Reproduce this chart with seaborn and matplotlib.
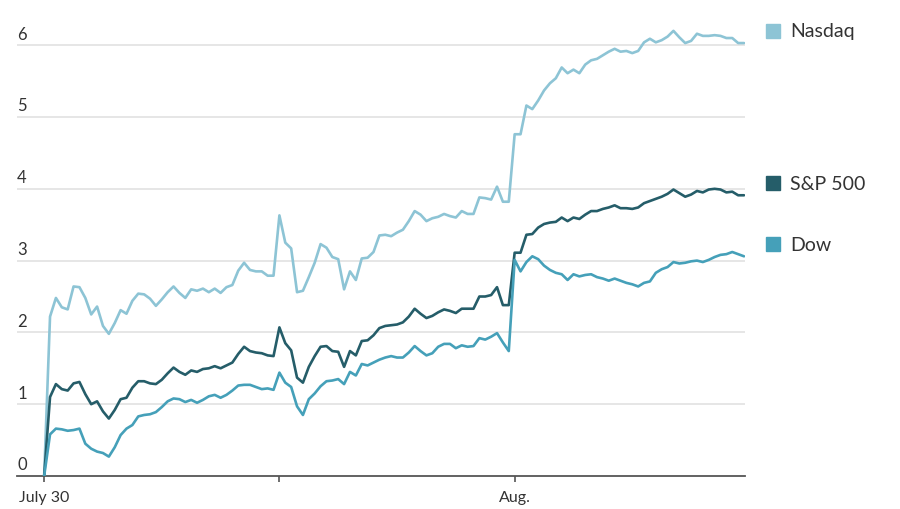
import numpy as np
import pandas as pd
import matplotlib
matplotlib.use('Agg')
import matplotlib.pyplot as plt
import matplotlib.transforms as mtransforms
import seaborn as sns

# percent change since July 29 close, 10-minute bars, three sessions of 40 bars
nasdaq = [
    0.00, 2.22, 2.48, 2.35, 2.32, 2.64, 2.63, 2.48, 2.25, 2.36,
    2.09, 1.98, 2.13, 2.31, 2.26, 2.44, 2.54, 2.53, 2.47, 2.37,
    2.46, 2.56, 2.64, 2.55, 2.48, 2.60, 2.58, 2.61, 2.56, 2.61,
    2.55, 2.63, 2.66, 2.86, 2.97, 2.87, 2.85, 2.85, 2.79, 2.79,
    3.63, 3.25, 3.17, 2.56, 2.58, 2.77, 2.97, 3.23, 3.18, 3.05,
    3.02, 2.60, 2.85, 2.73, 3.03, 3.04, 3.12, 3.35, 3.36, 3.34,
    3.39, 3.43, 3.55, 3.69, 3.64, 3.55, 3.59, 3.61, 3.65, 3.62,
    3.60, 3.69, 3.65, 3.65, 3.88, 3.87, 3.85, 4.03, 3.82, 3.82,
    4.76, 4.76, 5.16, 5.11, 5.23, 5.37, 5.47, 5.54, 5.69, 5.61,
    5.66, 5.61, 5.73, 5.79, 5.81, 5.86, 5.91, 5.95, 5.91, 5.92,
    5.89, 5.92, 6.04, 6.09, 6.04, 6.07, 6.12, 6.20, 6.11, 6.03,
    6.06, 6.16, 6.13, 6.13, 6.14, 6.13, 6.10, 6.10, 6.03, 6.03,
]
sp500 = [
    0.00, 1.10, 1.28, 1.21, 1.19, 1.29, 1.31, 1.14, 1.00, 1.04,
    0.90, 0.80, 0.92, 1.07, 1.09, 1.23, 1.32, 1.32, 1.29, 1.28,
    1.34, 1.43, 1.51, 1.45, 1.41, 1.47, 1.45, 1.49, 1.50, 1.53,
    1.50, 1.54, 1.58, 1.70, 1.80, 1.74, 1.72, 1.71, 1.68, 1.67,
    2.07, 1.85, 1.75, 1.37, 1.30, 1.52, 1.67, 1.80, 1.81, 1.74,
    1.73, 1.52, 1.74, 1.68, 1.88, 1.89, 1.96, 2.06, 2.09, 2.10,
    2.11, 2.14, 2.22, 2.33, 2.26, 2.20, 2.23, 2.28, 2.32, 2.30,
    2.27, 2.33, 2.33, 2.33, 2.50, 2.50, 2.52, 2.63, 2.38, 2.38,
    3.11, 3.11, 3.36, 3.37, 3.46, 3.51, 3.53, 3.54, 3.60, 3.55,
    3.60, 3.58, 3.64, 3.69, 3.69, 3.72, 3.74, 3.77, 3.73, 3.73,
    3.72, 3.74, 3.80, 3.83, 3.86, 3.89, 3.93, 3.99, 3.94, 3.89,
    3.92, 3.97, 3.95, 3.99, 4.00, 3.99, 3.95, 3.96, 3.91, 3.91,
]
dow = [
    0.00, 0.58, 0.66, 0.65, 0.63, 0.64, 0.66, 0.45, 0.38, 0.34,
    0.32, 0.27, 0.40, 0.57, 0.66, 0.71, 0.83, 0.85, 0.86, 0.89,
    0.96, 1.04, 1.08, 1.07, 1.03, 1.06, 1.02, 1.06, 1.11, 1.13,
    1.09, 1.13, 1.19, 1.26, 1.27, 1.27, 1.24, 1.21, 1.22, 1.20,
    1.44, 1.30, 1.24, 0.97, 0.85, 1.07, 1.15, 1.25, 1.32, 1.33,
    1.35, 1.28, 1.45, 1.40, 1.56, 1.54, 1.58, 1.62, 1.65, 1.67,
    1.65, 1.65, 1.72, 1.81, 1.74, 1.68, 1.71, 1.80, 1.84, 1.84,
    1.78, 1.82, 1.80, 1.81, 1.92, 1.90, 1.94, 1.99, 1.86, 1.74,
    3.01, 2.85, 2.98, 3.06, 3.02, 2.93, 2.87, 2.83, 2.81, 2.73,
    2.81, 2.78, 2.80, 2.81, 2.77, 2.75, 2.72, 2.75, 2.72, 2.69,
    2.67, 2.64, 2.69, 2.71, 2.83, 2.88, 2.91, 2.98, 2.96, 2.97,
    2.99, 3.00, 2.98, 3.01, 3.05, 3.08, 3.09, 3.12, 3.09, 3.06,
]

series_names = ['Nasdaq', 'S&P 500', 'Dow']
series_colors = ['#8dc4d5', '#255d69', '#45a0b9']
y_ticks = [0, 1, 2, 3, 4, 5, 6]
x_ticks = [0, 40, 80]          # start of each session
x_tick_labels = ['July 30', '', 'Aug.']

bars = np.arange(len(nasdaq))
df = pd.DataFrame({
    'bar': np.concatenate([bars, bars, bars]),
    'change': nasdaq + sp500 + dow,
    'index': np.repeat(series_names, len(bars)),
})

sns.set_style('white')
plt.rcParams['font.family'] = ['Lato', 'DejaVu Sans']

fig = plt.figure(figsize=(9, 5.1), dpi=100)
ax = fig.add_axes([0.019, 0.0647, 0.809, 0.901])

sns.lineplot(data=df, x='bar', y='change', hue='index', hue_order=series_names,
             palette=series_colors, linewidth=1.9, legend=False, ax=ax, zorder=3)

ax.set_xlim(-4.6, 119.2)
ax.set_ylim(0, 6.4)
ax.set_xlabel('')
ax.set_ylabel('')

# gridlines with the labels sitting on top of them at the left edge
for v in y_ticks[1:]:
    ax.axhline(v, color='#e4e4e4', linewidth=1.3, zorder=1)
trans = mtransforms.blended_transform_factory(ax.transAxes, ax.transData)
for v in y_ticks:
    ax.text(0.0, v + 0.05, str(v), transform=trans, ha='left', va='bottom',
            fontsize=12, color='#333333')
ax.set_yticks([])

for side in ['top', 'right', 'left']:
    ax.spines[side].set_visible(False)
ax.spines['bottom'].set_color('#555555')
ax.spines['bottom'].set_linewidth(1.3)

ax.set_xticks(x_ticks)
ax.set_xticklabels(x_tick_labels, fontsize=11.5, color='#333333')
ax.tick_params(axis='x', direction='out', length=4, width=1.2, color='#555555', pad=6, bottom=True)

# legend placed next to where each line ends
ends = [nasdaq[-1], sp500[-1], dow[-1]]
for name, color, end in zip(series_names, series_colors, ends):
    ax.plot([1.0385], [end + 0.17], marker='s', markersize=10, color=color,
            transform=trans, clip_on=False, linestyle='none')
    ax.text(1.062, end + 0.17, name, transform=trans, ha='left', va='center',
            fontsize=14, color='#333333')

fig.savefig('out.png', dpi=100, facecolor='white')
